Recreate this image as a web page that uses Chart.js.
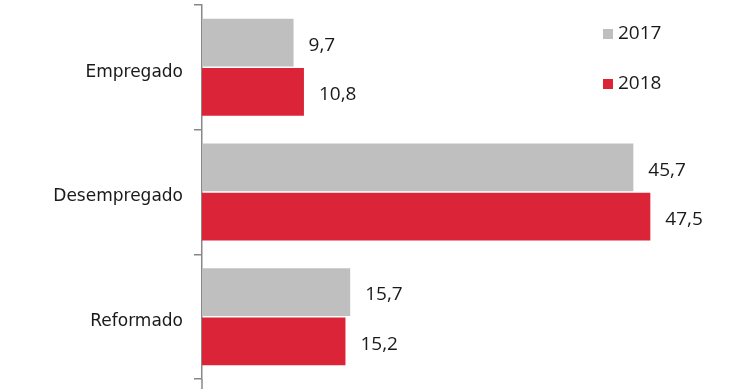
<!DOCTYPE html>
<html lang="pt">

<head>
    <meta charset="UTF-8">
    <meta name="viewport" content="width=device-width, initial-scale=1.0">
    <script src="https://cdn.jsdelivr.net/npm/chart.js@4"></script>
    <title>Empregado / Desempregado / Reformado</title>
    <style>
        html, body { margin: 0; padding: 0; background: #fff; }
        #wrap { width: 740px; height: 389px; }
    </style>
</head>

<body>

    <div id="wrap"><canvas id="myChart"></canvas></div>

    <script>

        const categories = ['Empregado', 'Desempregado', 'Reformado'];
        const series = ['2017', '2018'];
        const values2017 = [9.7, 45.7, 15.7];
        const values2018 = [10.8, 47.5, 15.2];
        const colors = ['#bfbfbf', '#db2438'];

        const fmt = v => v.toFixed(1).replace('.', ',');

        // value labels to the right of each bar
        const valueLabels = {
            id: 'valueLabels',
            afterDatasetsDraw(chart) {
                const ctx = chart.ctx;
                ctx.save();
                ctx.font = '19px "Open Sans"';
                ctx.fillStyle = '#1a1a1a';
                ctx.textAlign = 'left';
                ctx.textBaseline = 'middle';
                chart.data.datasets.forEach((ds, i) => {
                    chart.getDatasetMeta(i).data.forEach((bar, j) => {
                        ctx.fillText(fmt(ds.data[j]), bar.x + 15, bar.y + 3);
                    });
                });
                ctx.restore();
            }
        };

        // small legend in the top right corner + axis line running to the bottom edge
        const cornerLegend = {
            id: 'cornerLegend',
            afterDraw(chart) {
                const ctx = chart.ctx;
                const area = chart.chartArea;
                ctx.save();
                ctx.strokeStyle = '#888';
                ctx.lineWidth = 1.5;
                ctx.beginPath();
                ctx.moveTo(area.left, area.bottom);
                ctx.lineTo(area.left, chart.height);
                ctx.stroke();

                ctx.font = '19px "Open Sans"';
                ctx.textAlign = 'left';
                ctx.textBaseline = 'middle';
                chart.data.datasets.forEach((ds, i) => {
                    const y = area.top + 29 + i * 50;
                    ctx.fillStyle = ds.backgroundColor;
                    ctx.fillRect(area.right - 137, y - 5, 10, 10);
                    ctx.fillStyle = '#1a1a1a';
                    ctx.fillText(ds.label, area.right - 122, y);
                });
                ctx.restore();
            }
        };

        const chart = document.getElementById('myChart').getContext('2d');

        new Chart(chart, {
            type: 'bar',
            data: {
                labels: categories,
                datasets: [{
                    label: series[0],
                    data: values2017,
                    backgroundColor: colors[0],
                    categoryPercentage: 0.79,
                    barPercentage: 0.97
                }, {
                    label: series[1],
                    data: values2018,
                    backgroundColor: colors[1],
                    categoryPercentage: 0.79,
                    barPercentage: 0.97
                }]
            },
            options: {
                indexAxis: 'y',
                responsive: true,
                maintainAspectRatio: false,
                animation: false,
                layout: {
                    padding: { left: 0, right: 0, top: 5, bottom: 10 }
                },
                plugins: {
                    legend: { display: false },
                    tooltip: { enabled: false }
                },
                scales: {
                    x: {
                        display: false,
                        min: 0,
                        max: 57
                    },
                    y: {
                        afterFit: scale => {
                            scale.width = 202;
                            scale.paddingTop = 0;
                            scale.paddingBottom = 0;
                        },
                        border: { display: true, color: '#888', width: 1.5 },
                        grid: {
                            offset: true,
                            drawOnChartArea: false,
                            drawTicks: true,
                            tickLength: 8,
                            color: '#888',
                            lineWidth: 1.5
                        },
                        ticks: {
                            padding: 11,
                            labelOffset: 5,
                            color: '#1a1a1a',
                            font: { family: 'DejaVu Sans', size: 17 }
                        }
                    }
                }
            },
            plugins: [valueLabels, cornerLegend]
        });

    </script>

</body>

</html>
